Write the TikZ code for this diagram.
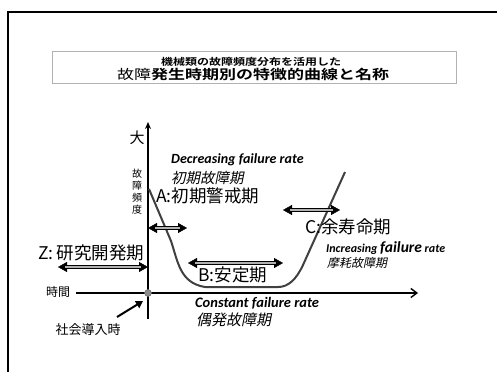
\documentclass[tikz,border=0pt]{standalone}
\usepackage{fontspec}
\setmainfont{Noto Sans CJK JP}[BoldFont={Noto Sans CJK JP Bold},AutoFakeSlant=0.2]
\newfontfamily\lat{Carlito}
\usetikzlibrary{arrows.meta}
\begin{document}
\begin{tikzpicture}[x=1pt,y=-1pt,
  lbl/.style={inner sep=0pt,anchor=west},
  eng/.style={inner sep=0pt,anchor=west},
  per/.style={inner sep=0pt,anchor=west,font=\fontsize{17.5}{18}\selectfont},
  curve/.style={draw=black!75,line width=2pt},
  dblout/.style={line width=4pt,black,shorten <=7pt,shorten >=7pt},
  dblin/.style={line width=1.6pt,black!30,shorten <=7pt,shorten >=7pt},
  dbltip/.style={line width=0.4pt,{Triangle[width=10pt,length=9pt]}-{Triangle[width=10pt,length=9pt]}}]
\useasboundingbox (0,0) rectangle (497,372);
\fill[white] (0,0) rectangle (497,372);
% frame
\draw[line width=1.2pt] (8,372) -- (8,12) -- (497,12);
% title
\node[draw=black!30,line width=0.6pt,minimum width=404pt,minimum height=32pt,inner sep=0pt] (titlebox) at (254,67) {};
\node[inner sep=0pt,font=\bfseries\fontsize{12}{13}\selectfont] (t1) at (251,61.5) {\scalebox{1}[0.8]{機械類の故障頻度分布を活用した}};
\node[inner sep=0pt,font=\fontsize{17}{18}\selectfont] (t2) at (253,74.5) {\scalebox{1}[0.78]{故障\textbf{発生時期別の特徴的曲線と名称}}};
% axes
\coordinate (o) at (148,293);
\coordinate (ytop) at (148,122);
\coordinate (ybot) at (148,319);
\coordinate (xl) at (76,293);
\coordinate (xr) at (418,293);
\draw[line width=1.2pt,-{Stealth[length=7pt,width=6pt]}] (ybot) -- (ytop);
\draw[line width=1.4pt,-{Straight Barb[length=6pt,width=9pt]}] (xl) -- (xr);
\node[circle,fill=black!45,draw=black!60,minimum size=7pt,inner sep=0pt] (dot) at (o) {};
% curve
\draw[curve] (149,189) -- (171,241) .. controls (178,262) and (180,283) .. (205,287)
  -- (278,287) .. controls (288,287) and (296,280) .. (303,265) -- (345,172);
% axis labels
\node[inner sep=0pt,font=\fontsize{15}{16}\selectfont] (big) at (137,138) {大};
\node[inner sep=0pt,font=\fontsize{10}{12}\selectfont,align=center] (vlab) at (137,192) {故\\障\\頻\\度};
\node[inner sep=0pt,font=\fontsize{12}{13}\selectfont] (time) at (58,292) {時間};
\node[inner sep=0pt,font=\fontsize{13}{14}\selectfont] (intro) at (88,330) {社会導入時};
\coordinate (ia) at (117,317);
\coordinate (ib) at (143,301);
\draw[line width=2pt,-{Triangle[length=7pt,width=8pt]}] (ia) -- (ib);
% English and period labels
\node[eng,font=\lat\bfseries\itshape\fontsize{14}{15}\selectfont] (dec) at (171,160) {Decreasing failure rate};
\node[lbl,font=\itshape\fontsize{14.5}{15}\selectfont] (early) at (171,178) {初期故障期};
\node[per] (A) at (156,196) {A:初期警戒期};
\node[per] (Z) at (38,253) {Z:\,研究開発期};
\node[per] (B) at (198,275) {B:安定期};
\node[per] (C) at (305,227) {C:余寿命期};
\node[eng,font=\lat\bfseries\itshape\fontsize{12}{13}\selectfont] (inc) at (326,248) {Increasing {\fontsize{15.5}{16}\selectfont failure} rate};
\node[lbl,font=\itshape\fontsize{12}{13}\selectfont] (wear) at (327,263) {摩耗故障期};
\node[eng,font=\lat\bfseries\itshape\fontsize{14.5}{15}\selectfont] (con) at (195,303) {Constant failure rate};
\node[lbl,font=\itshape\fontsize{15}{16}\selectfont] (rand) at (196,320) {偶発故障期};
% double arrows
\coordinate (a1) at (148,228); \coordinate (a2) at (187,228);
\coordinate (z1) at (58,267); \coordinate (z2) at (148,267);
\coordinate (b1) at (188,263); \coordinate (b2) at (283,263);
\coordinate (c1) at (283,210); \coordinate (c2) at (340,210);
\foreach \p/\q in {a1/a2,z1/z2,b1/b2,c1/c2}{
  \draw[dbltip] (\p) -- (\q);
  \draw[dblout] (\p) -- (\q);
  \draw[dblin] (\p) -- (\q);
}
\end{tikzpicture}
\end{document}
